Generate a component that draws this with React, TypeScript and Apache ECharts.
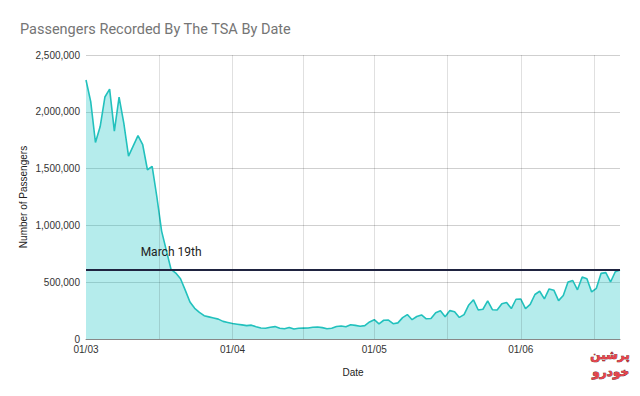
import React, { useEffect, useRef } from "react";
import * as echarts from "echarts";

// Daily passengers, 1 March – 22 June
const marchValues = [
  2280000, 2090000, 1730000, 1870000, 2130000, 2200000, 1830000, 2130000, 1900000, 1610000,
  1700000, 1790000, 1710000, 1490000, 1520000, 1250000, 950000, 780000, 612000, 580000,
  530000, 430000, 325000, 270000, 235000, 205000, 195000, 185000, 175000, 155000, 146000,
];
const aprilValues = [
  136000, 130000, 124000, 118000, 122000, 108000, 97000, 95000, 104000, 109000,
  94000, 90000, 102000, 88000, 95000, 96000, 97000, 104000, 105000, 100000,
  90000, 95000, 110000, 115000, 108000, 125000, 120000, 112000, 118000, 150000,
];
const mayValues = [
  170000, 134000, 165000, 167000, 135000, 142000, 188000, 215000, 170000, 198000,
  212000, 178000, 180000, 232000, 248000, 195000, 250000, 240000, 190000, 215000,
  300000, 345000, 255000, 262000, 335000, 258000, 255000, 310000, 322000, 268000, 350000,
];
const juneValues = [
  352000, 267000, 304000, 392000, 420000, 353000, 441000, 430000, 338000, 383000,
  502000, 515000, 433000, 545000, 530000, 414000, 446000, 578000, 584000, 502000,
  592000, 607000,
];
const passengers = [...marchValues, ...aprilValues, ...mayValues, ...juneValues];

const monthStartIndex = [0, 31, 61, 92];
const monthLabels = ["01/03", "01/04", "01/05", "01/06"];
const midMonthIndex = [15.5, 46, 76.5, 107.5];
const yTicks = [0, 500000, 1000000, 1500000, 2000000, 2500000];
const annotationIndex = 18;
const annotationText = "March 19th";

export default function App() {
  const ref = useRef<HTMLDivElement>(null);
  useEffect(() => {
    if (!ref.current) return;
    const chart = echarts.init(ref.current, null, { renderer: "svg" });
    const seriesData = passengers.map((v, i) => [i, v]);
    const refValue = passengers[annotationIndex];
    const gridLineStyle = { color: "rgba(0,0,0,0.12)", width: 1, type: "solid" as const };
    const vLines = [...monthStartIndex.slice(1), ...midMonthIndex].map((x) => ({
      xAxis: x,
      lineStyle: gridLineStyle,
    }));
    const logoStyle = {
      fontSize: 12,
      fontWeight: "bold",
      fill: "#e8434b",
      stroke: "#5a1a1a",
      lineWidth: 0.7,
      fontFamily: "DejaVu Sans",
    };
    chart.setOption({
      animation: false,
      title: {
        text: "Passengers Recorded By The TSA By Date",
        left: 20,
        top: 22,
        padding: 0,
        textStyle: { fontSize: 14.5, fontWeight: "normal", color: "#757575", fontFamily: "Roboto" },
      },
      grid: { left: 86, right: 20, top: 55, bottom: 57 },
      xAxis: {
        type: "value",
        min: 0,
        max: passengers.length - 1,
        interval: 1,
        name: "Date",
        nameLocation: "middle",
        nameGap: 28,
        nameMoveOverlap: false,
        nameTextStyle: { fontSize: 10, color: "#222", fontFamily: "Liberation Sans, Arial" },
        axisLine: { show: true, lineStyle: { color: "#888", width: 1 } },
        axisTick: { show: false },
        splitLine: { show: false },
        axisLabel: {
          margin: 5,
          fontSize: 10,
          color: "#333",
          fontFamily: "Liberation Sans, Arial",
          showMinLabel: true,
          showMaxLabel: true,
          formatter: (v: number) => {
            const k = monthStartIndex.indexOf(v);
            return k >= 0 ? monthLabels[k] : "";
          },
        },
      },
      yAxis: {
        type: "value",
        min: yTicks[0],
        max: yTicks[yTicks.length - 1],
        interval: yTicks[1] - yTicks[0],
        name: "Number of Passengers",
        nameLocation: "middle",
        nameGap: 58,
        nameMoveOverlap: false,
        nameTextStyle: { fontSize: 10, color: "#222", fontFamily: "Liberation Sans, Arial" },
        axisLine: { show: false },
        axisTick: { show: false },
        splitLine: { lineStyle: { color: "#cfcfcf", width: 1 } },
        axisLabel: {
          margin: 6,
          fontSize: 10,
          color: "#333",
          fontFamily: "Liberation Sans, Arial",
          formatter: (v: number) => v.toLocaleString("en-US"),
        },
      },
      series: [
        {
          type: "line",
          data: seriesData,
          showSymbol: false,
          symbol: "none",
          lineStyle: { color: "#22c1bd", width: 1.6 },
          areaStyle: { color: "#26c6c6", opacity: 0.34 },
          markLine: {
            silent: true,
            symbol: "none",
            label: { show: false },
            data: [
              ...vLines,
              {
                yAxis: refValue,
                lineStyle: { color: "#1f2340", width: 2, type: "solid" },
              },
            ],
          },
          markPoint: {
            silent: true,
            symbol: "circle",
            symbolSize: 0,
            data: [{ coord: [annotationIndex, refValue] }],
            label: {
              show: true,
              position: "top",
              distance: 11,
              formatter: annotationText,
              fontSize: 12,
              color: "#222",
              fontFamily: "Roboto",
            },
          },
        },
      ],
      graphic: [
        { type: "text", left: 590, top: 349, style: { text: "پرشین", ...logoStyle } },
        { type: "text", left: 592, top: 366, style: { text: "خودرو", ...logoStyle } },
      ],
    });
    return () => chart.dispose();
  }, []);
  return <div ref={ref} style={{ width: 640, height: 396, margin: -8 }} />;
}
